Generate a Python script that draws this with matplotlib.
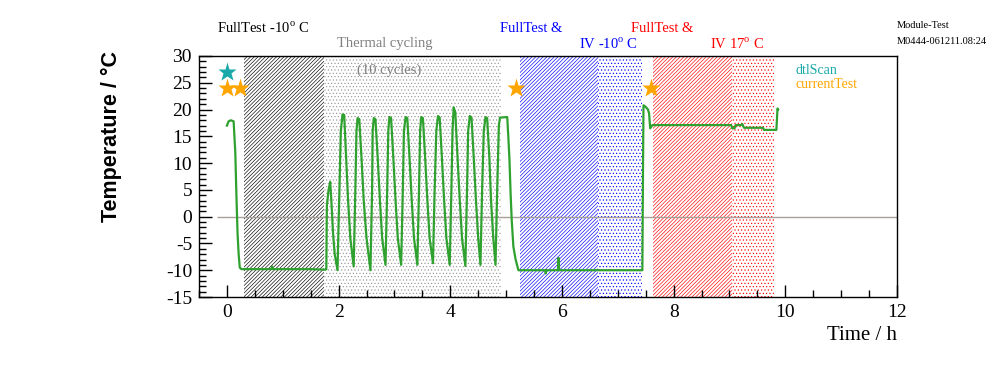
import matplotlib
matplotlib.use("Agg")
import matplotlib.pyplot as plt
from matplotlib.ticker import MultipleLocator

plt.rcParams['font.family'] = ['Liberation Serif', 'DejaVu Serif']
plt.rcParams['mathtext.fontset'] = 'custom'
plt.rcParams['mathtext.rm'] = 'Liberation Serif'
plt.rcParams['axes.unicode_minus'] = False
plt.rcParams['hatch.linewidth'] = 0.45

# ---- data ----
time_h = [0.0, 0.03, 0.07, 0.12, 0.15, 0.17, 0.19, 0.21, 0.23, 0.26,
          0.80, 0.81, 0.82, 1.50, 1.76, 1.78, 1.79, 1.82, 1.85, 1.87, 1.90, 1.93,
          1.98, 2.01, 2.04, 2.07, 2.10, 2.13, 2.17, 2.21,
          2.27, 2.30, 2.32, 2.34, 2.37, 2.41, 2.45, 2.50,
          2.57, 2.60, 2.61, 2.63, 2.66, 2.70, 2.74, 2.78,
          2.84, 2.87, 2.89, 2.91, 2.94, 2.98, 3.02, 3.06,
          3.12, 3.15, 3.17, 3.20, 3.23, 3.27, 3.31, 3.35,
          3.41, 3.44, 3.46, 3.48, 3.51, 3.55, 3.59, 3.63,
          3.69, 3.72, 3.75, 3.78, 3.81, 3.85, 3.89, 3.93,
          3.99, 4.02, 4.04, 4.06, 4.09, 4.13, 4.17, 4.21,
          4.27, 4.30, 4.32, 4.35, 4.38, 4.42, 4.46, 4.50,
          4.54, 4.57, 4.60, 4.63, 4.66, 4.70, 4.73, 4.77,
          4.81, 4.84, 4.87, 4.89, 5.02, 5.04, 5.06, 5.08, 5.10, 5.13, 5.17, 5.22,
          5.70, 5.71, 5.72, 5.93, 5.94, 5.95, 7.44, 7.45, 7.46, 7.50, 7.54, 7.56,
          7.58, 7.62, 9.03, 9.05, 9.09, 9.11, 9.20, 9.23, 9.26, 9.60, 9.62, 9.84,
          9.86, 9.87]
temp_c = [17.0, 17.8, 18.0, 17.8, 12.0, 4.0, -3.0, -7.0, -9.5, -9.8,
          -9.8, -9.3, -9.8, -9.8, -9.9, -9.8, 2.0, 5.0, 6.5, 3.0, -3.0, -7.0,
          -10.0, 3.0, 16.0, 19.1, 19.0, 12.0, 3.0, -4.0,
          -9.3, 5.0, 16.0, 18.4, 18.2, 11.0, 3.0, -4.0,
          -10.0, 5.0, 16.0, 18.4, 18.2, 11.0, 3.0, -4.0,
          -9.0, 5.0, 16.0, 18.6, 18.4, 11.0, 3.0, -4.0,
          -9.0, 5.0, 16.0, 18.6, 18.4, 11.0, 3.0, -4.0,
          -9.0, 5.0, 16.0, 18.6, 18.4, 11.0, 3.0, -4.0,
          -8.7, 5.0, 16.0, 18.8, 18.5, 11.0, 3.0, -4.0,
          -9.0, 5.0, 16.0, 20.4, 19.5, 11.0, 3.0, -4.0,
          -9.2, 5.0, 16.0, 18.8, 18.5, 11.0, 3.0, -4.0,
          -9.0, 5.0, 16.0, 18.6, 18.4, 11.0, 3.0, -4.0,
          -9.0, 5.0, 17.0, 18.5, 18.6, 14.8, 10.6, 4.4, -0.6, -5.6, -8.0, -10.0,
          -10.0, -10.6, -10.0, -10.0, -7.7, -10.0, -10.0, 7.2, 20.8, 20.5, 20.0, 19.3,
          16.5, 17.1, 17.1, 16.5, 16.5, 17.1, 17.1, 17.3, 16.6, 16.6, 16.2, 16.2,
          20.2, 20.0]

dtl_t = [0.0]
dtl_v = [27.0]
cur_t = [0.0, 0.23, 5.18, 7.59]
cur_v = [24.0, 24.0, 24.0, 24.0]

# shaded phases: (start, end, colour, hatch)
phase_start = [0.31, 1.73, 5.25, 6.65, 7.63, 9.05]
phase_end = [1.73, 4.91, 6.65, 7.43, 9.05, 9.80]
phase_color = ['black', '#9a9a9a', '#0000ff', '#0000ff', '#ff0000', '#ff0000']
phase_hatch = ['/' * 9, '.....', '/' * 9, '.....', '/' * 9, '.....']

W, H = 996, 372
fig = plt.figure(figsize=(W / 100, H / 100), dpi=100)
ax = fig.add_axes([199 / W, 1 - 297 / H, 698 / W, 241 / H])

for s, e, c, h in zip(phase_start, phase_end, phase_color, phase_hatch):
    ax.axvspan(s, e, facecolor='none', edgecolor=c, hatch=h, linewidth=0, zorder=1)

ax.hlines(0, -0.17, 12, color='#a8a098', lw=1.0, zorder=2)
ax.plot(time_h, temp_c, color='#2fa12f', lw=1.6, zorder=3)
ax.plot(dtl_t, dtl_v, linestyle='none', marker='*', ms=14, color='#1aa8a8', mec='none', zorder=4)
ax.plot(cur_t, cur_v, linestyle='none', marker='*', ms=14, color='#ffa500', mec='none', zorder=4)

ax.set_xlim(-0.5, 12)
ax.set_ylim(-15, 30)
ax.xaxis.set_major_locator(MultipleLocator(2))
ax.xaxis.set_minor_locator(MultipleLocator(0.5))
ax.yaxis.set_major_locator(MultipleLocator(5))
ax.yaxis.set_minor_locator(MultipleLocator(1))
ax.tick_params(which='both', direction='in', top=False, right=False, labelsize=14)
ax.tick_params(which='major', length=9, width=1)
ax.tick_params(which='minor', length=5, width=1)
ax.tick_params(axis='y', pad=5)
ax.tick_params(axis='x', pad=5)
for sp in ax.spines.values():
    sp.set_linewidth(1.0)

def ftxt(x, y, s, **kw):
    fig.text(x / W, 1 - y / H, s, va='center', ha='left', **kw)

ftxt(217, 28, r'FullTest -10$^{\rm o}$ C', fontsize=10.5, color='black')
ftxt(337, 44, 'Thermal cycling', fontsize=10.5, color='#808080')
ftxt(357, 70, '(10 cycles)', fontsize=10.5, color='#808080')
ftxt(500, 28, 'FullTest &', fontsize=10.5, color='#0000ff')
ftxt(579, 44, r'IV -10$^{\rm o}$ C', fontsize=10.5, color='#0000ff')
ftxt(631, 28, 'FullTest &', fontsize=10.5, color='#ff0000')
ftxt(710, 44, r'IV 17$^{\rm o}$ C', fontsize=10.5, color='#ff0000')
ftxt(796, 70, 'dtlScan', fontsize=10, color='#1aa8a8')
ftxt(796, 85, 'currentTest', fontsize=10, color='#ffa500')
ftxt(897, 25, 'Module-Test', fontsize=7.5, color='black')
ftxt(897, 41, 'M0444-061211.08:24', fontsize=7.5, color='black')

fig.text(111 / W, 1 - 137 / H, 'Temperature / °C', rotation=90, ha='center', va='center',
         fontsize=15.5, fontweight='bold', family=['Liberation Sans', 'DejaVu Sans'])
fig.text(897 / W, 1 - 336 / H, 'Time / h', ha='right', va='center', fontsize=15)

fig.savefig('out.png', dpi=100)
